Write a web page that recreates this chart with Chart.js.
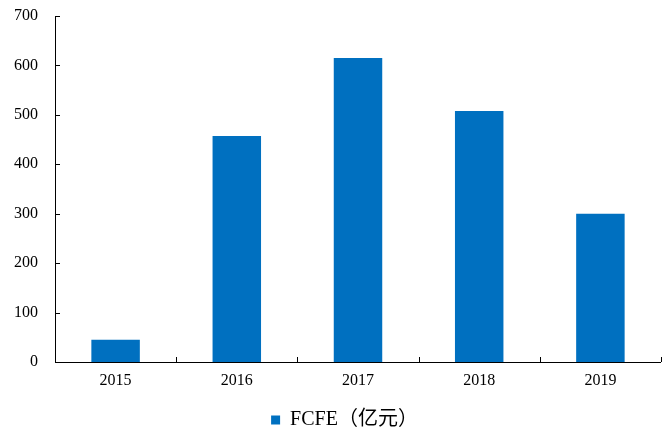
<!DOCTYPE html>
<html>
<head>
<meta charset="utf-8">
<script src="https://cdn.jsdelivr.net/npm/chart.js@4/dist/chart.umd.min.js"></script>
<style>
  html, body { margin: 0; padding: 0; background: #fff; }
  #wrap { width: 670px; height: 430px; }
</style>
</head>
<body>
<div id="wrap"><canvas id="myChart" width="670" height="430"></canvas></div>
<script>
var years = ['2015', '2016', '2017', '2018', '2019'];
var fcfe = [45, 457, 615, 508, 300];
var yTicks = [0, 100, 200, 300, 400, 500, 600, 700];
var serieName = 'FCFE\uFF08亿元\uFF09';

var fuente = "'Liberation Serif', 'Times New Roman', 'Noto Sans CJK SC', serif";

// ticks hacia dentro, tomados de las escalas del grafico
var ticksDentro = {
    id: 'ticksDentro',
    afterLayout: function (chart) {
        // la leyenda del original queda algo mas a la derecha
        chart.legend.left += 14;
        chart.legend.right += 14;
    },
    afterDraw: function (chart) {
        var ctx = chart.ctx;
        var xs = chart.scales.x;
        var ys = chart.scales.y;
        var area = chart.chartArea;
        var paso = xs.getPixelForValue(1) - xs.getPixelForValue(0);
        ctx.save();
        ctx.strokeStyle = '#000';
        ctx.lineWidth = 1;
        ctx.beginPath();
        // eje y
        ctx.moveTo(area.left + 0.5, area.top);
        ctx.lineTo(area.left + 0.5, area.bottom);
        for (var i = 0; i < ys.ticks.length; i++) {
            var py = Math.round(ys.getPixelForValue(ys.ticks[i].value)) + 0.5;
            ctx.moveTo(area.left, py);
            ctx.lineTo(area.left + 5, py);
        }
        // eje x
        ctx.moveTo(area.left, area.bottom + 0.5);
        ctx.lineTo(area.right, area.bottom + 0.5);
        for (var j = 0; j <= years.length; j++) {
            var px = xs.getPixelForValue(0) - paso / 2 + j * paso;
            px = Math.round(px) + 0.5;
            ctx.moveTo(px, area.bottom);
            ctx.lineTo(px, area.bottom - 5);
        }
        ctx.stroke();
        ctx.restore();
    }
};

var ctx = document.getElementById('myChart').getContext('2d');
var myChart = new Chart(ctx, {
    type: 'bar',
    data: {
        labels: years,
        datasets: [{
            label: serieName,
            data: fcfe,
            backgroundColor: '#0070C0',
            borderWidth: 0,
            categoryPercentage: 1,
            barPercentage: 0.4
        }]
    },
    options: {
        responsive: false,
        animation: false,
        layout: { padding: { left: 0, right: 9, top: 16, bottom: -10 } },
        plugins: {
            legend: {
                position: 'bottom',
                labels: {
                    boxWidth: 9,
                    boxHeight: 9,
                    color: '#000',
                    padding: 3,
                    font: { family: fuente, size: 20 }
                }
            },
            tooltip: { enabled: false }
        },
        scales: {
            x: {
                border: { display: false },
                grid: { display: false, drawTicks: false },
                afterFit: function (axis) {
                    axis.height = 45;
                    axis.paddingLeft = 0;
                    axis.paddingRight = 0;
                },
                ticks: {
                    color: '#000',
                    padding: 9,
                    font: { family: fuente, size: 16 }
                }
            },
            y: {
                min: 0,
                max: 700,
                border: { display: false },
                grid: { display: false, drawTicks: false },
                afterFit: function (axis) {
                    axis.width = 55;
                    axis.paddingTop = 0;
                    axis.paddingBottom = 0;
                },
                afterBuildTicks: function (axis) {
                    axis.ticks = yTicks.map(function (v) { return { value: v }; });
                },
                ticks: {
                    color: '#000',
                    padding: 17,
                    font: { family: fuente, size: 16 }
                }
            }
        }
    },
    plugins: [ticksDentro]
});
</script>
</body>
</html>
